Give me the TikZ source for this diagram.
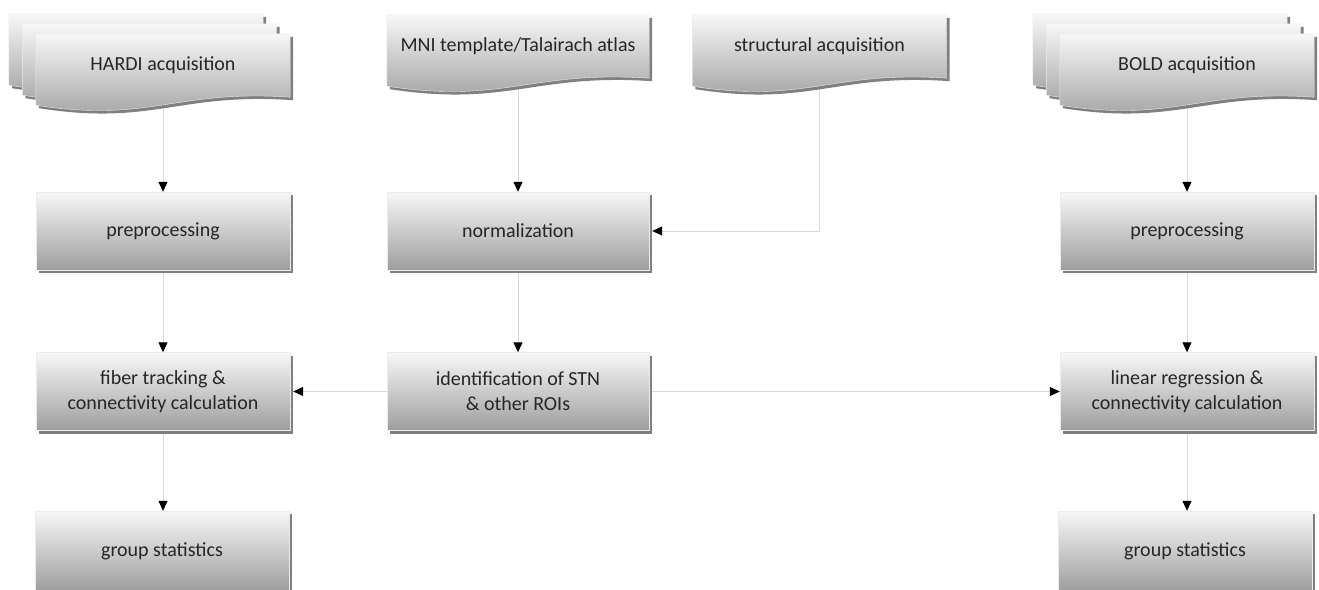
\documentclass[tikz,border=0pt]{standalone}
\usepackage{fontspec}
\setmainfont{Carlito}
\usetikzlibrary{calc,shadows,arrows.meta}
\pgfdeclarelayer{bg}
\pgfdeclarelayer{mid}
\pgfsetlayers{bg,mid,main}
\begin{document}
\begin{tikzpicture}[x=1pt,y=-1pt,
  shadowed/.style={drop shadow={shadow xshift=3pt,shadow yshift=-3pt,fill=black!50,opacity=1}},
  facefill/.style={top color=black!3,bottom color=black!38,draw=black!8,line width=0.4pt},
  txt/.style={font=\fontsize{20}{25}\selectfont,text=black!85,align=center,inner sep=0pt},
  box/.style={rectangle,facefill,shadowed,txt,minimum width=254pt,minimum height=78pt},
  wide/.style={minimum width=262pt},
  doctext/.style={rectangle,txt,minimum width=254pt,minimum height=63pt},
  docfill/.style={facefill,shadowed},
  docpath/.style 2 args={insert path={
    ($(#1.north west)+(#2)$) -- ($(#1.north east)+(#2)$) -- ($(#1.south east)+(#2)$)
    .. controls ($(#1.south west)!0.55!(#1.south east)+(#2)+(0,8pt)$)
    and ($(#1.south west)!0.45!(#1.south east)+(#2)+(0,-26pt)$)
    .. ($(#1.south west)+(#2)+(0,-8pt)$) -- cycle}},
  conn/.style={draw=black!15,line width=1pt,-{Triangle[length=10pt,width=9pt,color=black]}}
]
\useasboundingbox (0,0) rectangle (1319,589);

% document-shaped inputs (text nodes)
\node[doctext] (hardi) at (163,65.5) {HARDI acquisition};
\node[doctext,wide] (mni) at (518,46.5) {MNI template/Talairach atlas};
\node[doctext] (struct) at (819.5,46.5) {structural acquisition};
\node[doctext] (bold) at (1187,65.5) {BOLD acquisition};

\begin{pgfonlayer}{mid}
  \path[docfill,docpath={hardi}{-27pt,20pt}];
  \path[docfill,docpath={hardi}{-13.5pt,10pt}];
  \path[docfill,docpath={hardi}{0pt,0pt}];
  \path[docfill,docpath={mni}{0pt,0pt}];
  \path[docfill,docpath={struct}{0pt,0pt}];
  \path[docfill,docpath={bold}{-27pt,20pt}];
  \path[docfill,docpath={bold}{-13.5pt,10pt}];
  \path[docfill,docpath={bold}{0pt,0pt}];
\end{pgfonlayer}

% process boxes
\node[box] (prepL) at (163,231) {preprocessing};
\node[box] (fiber) at (163,391.5) {fiber tracking \&\\connectivity calculation};
\node[box,minimum height=80pt] (groupL) at (162,551) {group statistics};
\node[box,wide] (norm) at (518,231) {normalization};
\node[box,wide] (ident) at (518,391.5) {identification of STN\\\& other ROIs};
\node[box] (prepR) at (1187,231) {preprocessing};
\node[box] (linR) at (1187,391.5) {linear regression \&\\connectivity calculation};
\node[box,minimum height=80pt] (groupR) at (1185,551) {group statistics};

\begin{pgfonlayer}{bg}
  \draw[conn] (hardi.south) -- (prepL.north);
  \draw[conn] (prepL.south) -- (fiber.north);
  \draw[conn] (fiber.south) -- (fiber.south |- groupL.north);
  \draw[conn] (mni.south) -- (norm.north);
  \draw[conn,shorten >=3pt] (struct.south) |- (norm.east);
  \draw[conn] (norm.south) -- (ident.north);
  \draw[conn,shorten >=3pt] (ident.west) -- (fiber.east);
  \draw[conn] (ident.east) -- (linR.west);
  \draw[conn] (bold.south) -- (prepR.north);
  \draw[conn] (prepR.south) -- (linR.north);
  \draw[conn] (linR.south) -- (linR.south |- groupR.north);
\end{pgfonlayer}
\end{tikzpicture}
\end{document}
